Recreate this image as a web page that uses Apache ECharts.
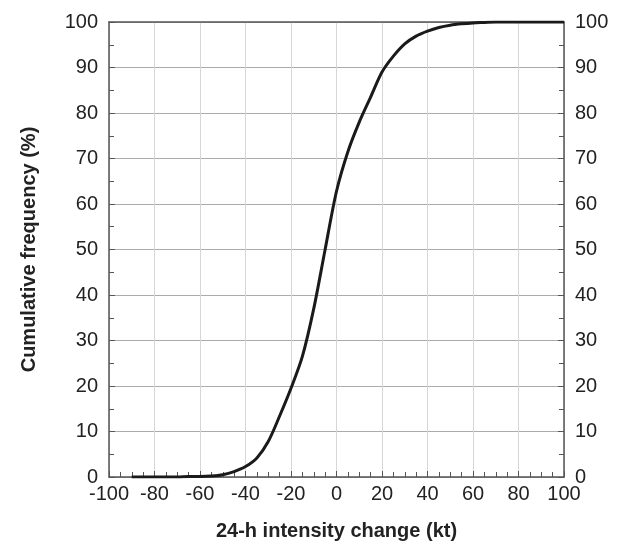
<!DOCTYPE html>
<html><head><meta charset="utf-8">
<script src="https://cdn.jsdelivr.net/npm/echarts@6/dist/echarts.min.js"></script>
<style>html,body{margin:0;padding:0;background:#fff}#c{width:622px;height:552px}</style>
</head><body><div id="c"></div>
<script>
const intensityChange = [-90,-85,-80,-75,-70,-65,-60,-55,-50,-45,-40,-35,-30,-25,-20,-15,-10,-5,0,5,10,15,20,25,30,35,40,45,50,55,60,65,70,75,80,85,90,95,100];
const cumulativeFreq = [0,0,0,0,0,0.1,0.1,0.2,0.5,1.2,2.3,4.2,7.8,13.4,19.5,26.5,37,50,62.8,71.5,78,83.5,89,92.5,95.2,96.9,98,98.8,99.3,99.6,99.8,99.9,100,100,100,100,100,100,100];
const xTitle = '24-h intensity change (kt)';
const yTitle = 'Cumulative frequency (%)';

const font = '"Liberation Sans", Arial, sans-serif';
const axisCol = '#555';
const chart = echarts.init(document.getElementById('c'));
const yCommon = {
  type:'value', min:0, max:100, interval:10,
  axisLine:{show:true, onZero:false, lineStyle:{color:axisCol, width:1.5}},
  axisTick:{show:true, inside:true, length:6, lineStyle:{color:axisCol}},
  minorTick:{show:true, splitNumber:2, length:5, lineStyle:{color:axisCol}},
  axisLabel:{fontSize:20, color:'#222', fontFamily:font, margin:11},
};
chart.setOption({
  animation:false,
  grid:{left:109, right:58, top:22, bottom:75},
  xAxis:[{
    type:'value', min:-100, max:100, interval:20, position:'bottom',
    name:xTitle, nameLocation:'middle', nameGap:44,
    nameTextStyle:{fontSize:20, fontWeight:'bold', color:'#222', fontFamily:font},
    axisLine:{show:true, onZero:false, lineStyle:{color:axisCol, width:1.5}},
    axisTick:{show:true, inside:true, length:6, lineStyle:{color:axisCol}},
    minorTick:{show:true, splitNumber:4, length:5, lineStyle:{color:axisCol}},
    axisLabel:{fontSize:20, color:'#222', fontFamily:font, margin:7},
    splitLine:{show:true, lineStyle:{color:'#d6d6d6', width:1}}
  },{
    type:'value', min:-100, max:100, interval:20, position:'top',
    axisLine:{show:true, onZero:false, lineStyle:{color:axisCol, width:1.5}},
    axisTick:{show:false}, axisLabel:{show:false}, splitLine:{show:false}
  }],
  yAxis:[Object.assign({}, yCommon, {
    position:'left',
    name:yTitle, nameLocation:'middle', nameGap:70,
    nameTextStyle:{fontSize:20, fontWeight:'bold', color:'#222', fontFamily:font},
    splitLine:{show:true, lineStyle:{color:'#ababab', width:1}}
  }), Object.assign({}, yCommon, {
    position:'right', splitLine:{show:false}
  })],
  series:[{
    type:'line', xAxisIndex:0, yAxisIndex:0, smooth:0.3, symbol:'none',
    lineStyle:{color:'#1a1a1a', width:3},
    data: intensityChange.map((x,i)=>[x, cumulativeFreq[i]])
  }]
});
</script></body></html>
